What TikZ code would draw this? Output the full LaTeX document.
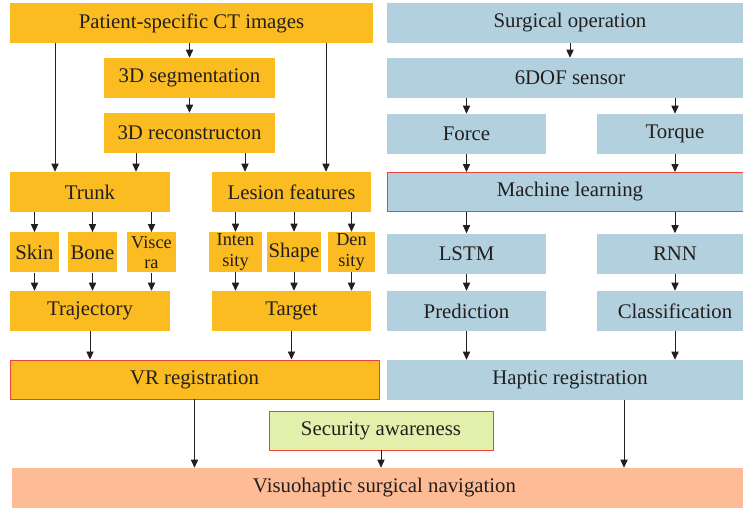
\documentclass[tikz,border=0pt]{standalone}
\usepackage{fontspec}
\setmainfont{Liberation Serif}
\usetikzlibrary{arrows.meta,positioning,calc}
\definecolor{orangeC}{RGB}{251,188,34}
\definecolor{bleuC}{RGB}{178,208,221}
\definecolor{saumonC}{RGB}{253,187,150}
\definecolor{vertC}{RGB}{226,240,172}
\definecolor{rougeC}{RGB}{232,68,58}
\definecolor{texteC}{RGB}{35,31,32}
\tikzset{
  blk/.style={rectangle, fill=#1, inner sep=0pt, minimum height=1cm, align=center,
              text=texteC, font=\fontsize{14.8}{11}\selectfont},
  deux/.style={font=\fontsize{13}{14.4}\selectfont},
  cadre/.style={draw=rougeC, line width=0.7pt},
  arr/.style={-{Triangle[length=2mm,width=1.8mm]}, line width=0.6pt, draw=texteC},
}

\begin{document}
\begin{tikzpicture}
    \useasboundingbox (0,0) rectangle (18.575,-12.725);
    % Imagerie
    \node[blk=orangeC, minimum width=9.075cm] (ct) at (4.7875,-0.575) {Patient-specific CT images};
    \node[blk=orangeC, minimum width=4.275cm] (seg) at (4.7375,-1.95) {3D segmentation};
    \node[blk=orangeC, minimum width=4.275cm] (rec) at (4.7375,-3.325) {3D reconstructon};
    \node[blk=orangeC, minimum width=4cm] (trunk) at (2.25,-4.8) {Trunk};
    \node[blk=orangeC, minimum width=3.975cm] (lesion) at (7.2875,-4.8) {Lesion features};
    \node[blk=orangeC, minimum width=1.225cm] (skin) at (0.8625,-6.31) {Skin};
    \node[blk=orangeC, minimum width=1.225cm] (bone) at (2.3125,-6.31) {Bone};
    \node[blk=orangeC, deux, minimum width=1.225cm] (visc) at (3.7875,-6.31) {Visce\\ra};
    \node[blk=orangeC, deux, minimum width=1.325cm] (inten) at (5.8875,-6.3) {Inten\\sity};
    \node[blk=orangeC, minimum width=1.35cm] (shape) at (7.35,-6.3) {Shape};
    \node[blk=orangeC, deux, minimum width=1.175cm] (dens) at (8.7875,-6.3) {Den\\sity};
    \node[blk=orangeC, minimum width=4cm] (traj) at (2.25,-7.775) {Trajectory};
    \node[blk=orangeC, minimum width=3.975cm] (target) at (7.2875,-7.775) {Target};
    \node[blk=orangeC, cadre, minimum width=9.225cm, minimum height=0.975cm] (vr) at (4.8625,-9.4875) {VR registration};
    % Haptique
    \node[blk=bleuC, minimum width=9.15cm] (surg) at (14.25,-0.575) {Surgical operation};
    \node[blk=bleuC, minimum width=9.15cm] (dof) at (14.25,-1.95) {6DOF sensor};
    \node[blk=bleuC, minimum width=3.975cm] (force) at (11.6625,-3.35) {Force};
    \node[blk=bleuC, minimum width=3.9cm] (torque) at (16.875,-3.35) {Torque};
    \node[blk=bleuC, cadre, minimum width=9.15cm, minimum height=0.975cm] (ml) at (14.25,-4.8) {Machine learning};
    \node[blk=bleuC, minimum width=3.975cm] (lstm) at (11.6625,-6.3375) {LSTM};
    \node[blk=bleuC, minimum width=3.9cm] (rnn) at (16.875,-6.3375) {RNN};
    \node[blk=bleuC, minimum width=3.975cm] (pred) at (11.6625,-7.775) {Prediction};
    \node[blk=bleuC, minimum width=3.9cm] (class) at (16.875,-7.775) {Classification};
    \node[blk=bleuC, minimum width=9.15cm] (haptic) at (14.25,-9.5) {Haptic registration};
    % Navigation
    \node[blk=vertC, cadre, minimum width=5.6cm, minimum height=0.975cm] (secur) at (9.525,-10.7625) {Security awareness};
    \node[blk=saumonC, minimum width=18.625cm] (visuo) at (9.6125,-12.2) {Visuohaptic surgical navigation};
    % Points d'arrivée décalés
    \coordinate (tG) at ([xshift=-0.875cm]trunk.north);
    \coordinate (tD) at ([xshift=1.15cm]trunk.north);
    \coordinate (lG) at ([xshift=-1.1625cm]lesion.north);
    \coordinate (lD) at ([xshift=0.8625cm]lesion.north);
    \coordinate (hB) at ([xshift=1.35cm]haptic.south);
    % Flèches
    \draw[arr] (ct.south -| seg) -- (seg.north); \draw[arr] (seg) -- (rec);
    \draw[arr] (ct.south -| tG) -- (tG); \draw[arr] (ct.south -| lD) -- (lD);
    \draw[arr] (rec.south -| tD) -- (tD); \draw[arr] (rec.south -| lG) -- (lG);
    \foreach \n in {skin,bone,visc} {
      \draw[arr] (trunk.south -| \n) -- (\n.north);
      \draw[arr] (\n.south) -- (traj.north -| \n);
    }
    \foreach \n in {inten,shape,dens} {
      \draw[arr] (lesion.south -| \n) -- (\n.north);
      \draw[arr] (\n.south) -- (target.north -| \n);
    }
    \draw[arr] (traj.south) -- (vr.north -| traj); \draw[arr] (target.south) -- (vr.north -| target);
    \draw[arr] (surg) -- (dof);
    \draw[arr] (dof.south -| force) -- (force.north); \draw[arr] (dof.south -| torque) -- (torque.north);
    \draw[arr] (force.south) -- (ml.north -| force); \draw[arr] (torque.south) -- (ml.north -| torque);
    \draw[arr] (ml.south -| lstm) -- (lstm.north); \draw[arr] (ml.south -| rnn) -- (rnn.north);
    \draw[arr] (lstm) -- (pred); \draw[arr] (rnn) -- (class);
    \draw[arr] (pred.south) -- (haptic.north -| pred); \draw[arr] (class.south) -- (haptic.north -| class);
    \draw[arr] (vr.south) -- (visuo.north -| vr.south);
    \draw[arr] (secur.south) -- (visuo.north -| secur.south);
    \draw[arr] (hB) -- (visuo.north -| hB);
\end{tikzpicture}
\end{document}
